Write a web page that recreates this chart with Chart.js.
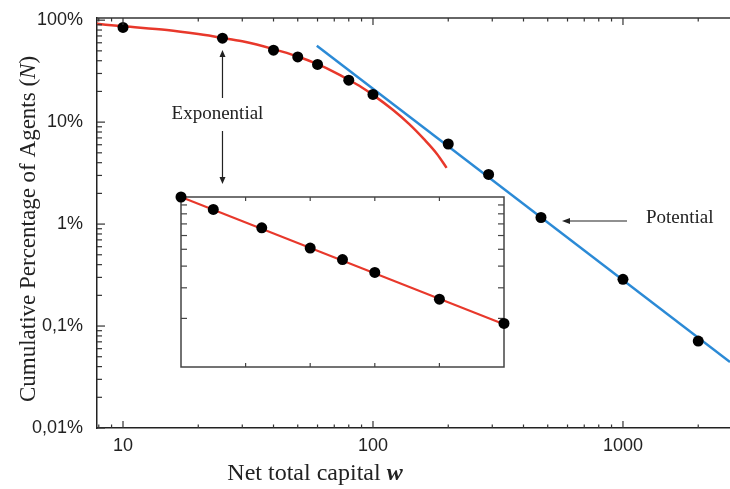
<!DOCTYPE html>
<html><head><meta charset="utf-8">
<script src="https://cdn.jsdelivr.net/npm/chart.js@4/dist/chart.umd.min.js"></script>
<style>
html,body{margin:0;padding:0;background:#fff;overflow:hidden;}
#wrap{position:relative;width:730px;height:489px;background:#fff;}
#main{position:absolute;left:0;top:0;}
#inset{position:absolute;left:171px;top:187px;}
</style></head><body>
<div id="wrap">
<canvas id="main" width="730" height="489"></canvas>
<canvas id="inset" width="343" height="190"></canvas>
</div>
<script>
// ---- data ----
const capitalW   = [10, 25, 40, 50, 60, 80, 100, 200, 290, 470, 1000, 2000];
const agentsPct  = [84.8, 66.5, 50.8, 43.6, 36.8, 25.8, 18.7, 6.1, 3.07, 1.16, 0.287, 0.0713];
const expCurveW  = [7.87, 10, 15, 20, 25, 30, 40, 50, 60, 70, 80, 90, 100, 120, 140, 160, 180, 197];
const expCurvePct= [92, 87, 80, 73, 67, 62, 52, 44, 37, 31, 26, 22, 18.5, 13.2, 9.5, 6.8, 4.9, 3.56];
const powerLineW = [59.6, 2680];
const powerLinePct = [56, 0.0444];
const yTickValues = [0.01, 0.1, 1, 10, 100];
const yTickLabels = ['0,01%', '0,1%', '1%', '10%', '100%'];
const xTickValues = [10, 100, 1000];
const xTickLabels = ['10', '100', '1000'];
const insetW   = [0, 10, 25, 40, 50, 60, 80, 100];
const insetPct = [100, 84.8, 66.5, 50.8, 43.6, 36.8, 25.8, 18.7];
const insetFitW   = [0, 100];
const insetFitPct = [100, 18.5];
const insetXTicks = [20, 40, 60, 80];
const insetYTicks = [20, 30, 40, 50, 60, 70, 80, 90];

const pts = (xs, ys) => xs.map((x, i) => ({x: x, y: ys[i]}));
const INK = '#222';

function line(ctx, x1, y1, x2, y2) { ctx.beginPath(); ctx.moveTo(x1, y1); ctx.lineTo(x2, y2); ctx.stroke(); }
function arrowHead(ctx, x, y, dir) {
  ctx.beginPath();
  if (dir === 'up') { ctx.moveTo(x, y); ctx.lineTo(x - 3, y + 7); ctx.lineTo(x + 3, y + 7); }
  if (dir === 'down') { ctx.moveTo(x, y); ctx.lineTo(x - 3, y - 7); ctx.lineTo(x + 3, y - 7); }
  if (dir === 'left') { ctx.moveTo(x, y); ctx.lineTo(x + 8, y - 3); ctx.lineTo(x + 8, y + 3); }
  ctx.closePath(); ctx.fill();
}

const mainDecor = {
  id: 'mainDecor',
  afterDraw(chart) {
    const ctx = chart.ctx, ca = chart.chartArea, xs = chart.scales.x, ys = chart.scales.y;
    ctx.save();
    ctx.strokeStyle = '#333'; ctx.lineWidth = 1.5;
    line(ctx, ca.left, ca.top, ca.right, ca.top);
    ctx.lineWidth = 1.2;
    [1, 10, 100, 1000].forEach(d => {
      for (let m = 1; m <= 9; m++) {
        const v = m * d;
        if (v < xs.min || v > xs.max) continue;
        const px = xs.getPixelForValue(v), len = m === 1 ? 7 : 3.5;
        line(ctx, px, ca.bottom, px, ca.bottom - len);
        line(ctx, px, ca.top, px, ca.top + len);
      }
    });
    [0.01, 0.1, 1, 10, 100].forEach(d => {
      for (let m = 1; m <= 9; m++) {
        const v = m * d;
        if (v < ys.min || v > ys.max) continue;
        const py = ys.getPixelForValue(v), len = m === 1 ? 8 : 5;
        line(ctx, ca.left, py, ca.left + len, py);
      }
    });
    // annotations
    ctx.fillStyle = INK; ctx.strokeStyle = INK; ctx.lineWidth = 1.2;
    const ax = xs.getPixelForValue(25);
    ctx.font = '19px "Liberation Serif"'; ctx.textAlign = 'center'; ctx.textBaseline = 'middle';
    ctx.fillText('Exponential', ax - 5, 114);
    line(ctx, ax, 98, ax, 55); arrowHead(ctx, ax, 50, 'up');
    line(ctx, ax, 131, ax, 178); arrowHead(ctx, ax, 184, 'down');
    const py = 221;
    line(ctx, 627, py, 568, py); arrowHead(ctx, 562, py, 'left');
    ctx.textAlign = 'left';
    ctx.fillText('Potential', 646, 218);
    // y title (mixed styles)
    ctx.save();
    ctx.translate(29, 229); ctx.rotate(-Math.PI / 2);
    const fN = '23px "Liberation Serif"', fI = 'italic 23px "Liberation Serif"';
    const p1 = 'Cumulative Percentage of Agents (', p2 = 'N', p3 = ')';
    ctx.font = fN; const w1 = ctx.measureText(p1).width, w3 = ctx.measureText(p3).width;
    ctx.font = fI; const w2 = ctx.measureText(p2).width;
    let sx = -(w1 + w2 + w3) / 2;
    ctx.textAlign = 'left'; ctx.textBaseline = 'middle';
    ctx.font = fN; ctx.fillText(p1, sx, 0); sx += w1;
    ctx.font = fI; ctx.fillText(p2, sx, 0); sx += w2;
    ctx.font = fN; ctx.fillText(p3, sx, 0);
    ctx.restore();
    // x title
    const q1 = 'Net total capital ', q2 = 'w';
    const gN = '24px "Liberation Serif"', gB = 'italic bold 24px "Liberation Serif"';
    ctx.font = gN; const v1 = ctx.measureText(q1).width;
    ctx.font = gB; const v2 = ctx.measureText(q2).width;
    let tx = 315 - (v1 + v2) / 2;
    ctx.textAlign = 'left'; ctx.textBaseline = 'middle';
    ctx.font = gN; ctx.fillText(q1, tx, 474); tx += v1;
    ctx.font = gB; ctx.fillText(q2, tx, 474);
    ctx.restore();
  }
};

new Chart(document.getElementById('main'), {
  type: 'scatter',
  data: { datasets: [
    { data: pts(expCurveW, expCurvePct), showLine: true, borderColor: '#e8382b', borderWidth: 2.5, pointRadius: 0, cubicInterpolationMode: 'monotone', order: 2 },
    { data: pts(powerLineW, powerLinePct), showLine: true, borderColor: '#2b8ad6', borderWidth: 2.5, pointRadius: 0, order: 3 },
    { data: pts(capitalW, agentsPct), showLine: false, pointRadius: 5.5, pointHoverRadius: 5.5, backgroundColor: '#000', borderColor: '#000', borderWidth: 0, order: 1 }
  ]},
  options: {
    responsive: false, animation: false, devicePixelRatio: 1,
    layout: { autoPadding: false, padding: { top: 18, left: 0, right: 0, bottom: 0 } },
    plugins: { legend: { display: false }, tooltip: { enabled: false } },
    scales: {
      x: { type: 'logarithmic', min: 7.87, max: 2680,
        grid: { display: false, drawTicks: false },
        border: { color: '#222', width: 1.5 },
        afterBuildTicks: s => { s.ticks = xTickValues.map(v => ({ value: v })); },
        ticks: { callback: (v, i) => xTickLabels[i], color: INK, font: { family: 'Liberation Sans', size: 18 }, padding: 7, maxRotation: 0, autoSkip: false },
        afterFit: s => { s.height = 61; s.paddingLeft = 0; s.paddingRight = 0; } },
      y: { type: 'logarithmic', min: 0.01, max: 105,
        grid: { display: false, drawTicks: false },
        border: { color: '#222', width: 1.5 },
        afterBuildTicks: s => { s.ticks = yTickValues.map(v => ({ value: v })); },
        ticks: { callback: (v, i) => yTickLabels[i], color: INK, font: { family: 'Liberation Sans', size: 18 }, padding: 14, autoSkip: false },
        afterFit: s => { s.width = 97; s.paddingTop = 0; s.paddingBottom = 0; } }
    }
  },
  plugins: [mainDecor]
});

const insetDecor = {
  id: 'insetDecor',
  beforeDatasetsDraw(chart) {
    const ctx = chart.ctx, ca = chart.chartArea, xs = chart.scales.x, ys = chart.scales.y;
    ctx.save();
    ctx.fillStyle = '#fff'; ctx.fillRect(ca.left, ca.top, ca.right - ca.left, ca.bottom - ca.top);
    ctx.strokeStyle = '#444'; ctx.lineWidth = 1.5;
    ctx.strokeRect(ca.left, ca.top, ca.right - ca.left, ca.bottom - ca.top);
    ctx.lineWidth = 1.2;
    insetXTicks.forEach(v => {
      const px = xs.getPixelForValue(v);
      line(ctx, px, ca.top, px, ca.top + 4);
      line(ctx, px, ca.bottom, px, ca.bottom - 4);
    });
    insetYTicks.forEach(v => {
      const py = ys.getPixelForValue(v);
      line(ctx, ca.left, py, ca.left + 6, py);
      line(ctx, ca.right, py, ca.right - 6, py);
    });
    ctx.restore();
  }
};

new Chart(document.getElementById('inset'), {
  type: 'scatter',
  data: { datasets: [
    { data: pts(insetFitW, insetFitPct), showLine: true, borderColor: '#e8382b', borderWidth: 2, pointRadius: 0, clip: false, order: 2 },
    { data: pts(insetW, insetPct), showLine: false, pointRadius: 5.5, pointHoverRadius: 5.5, backgroundColor: '#000', borderColor: '#000', borderWidth: 0, clip: false, order: 1 }
  ]},
  options: {
    responsive: false, animation: false, devicePixelRatio: 1,
    layout: { autoPadding: false, padding: 10 },
    plugins: { legend: { display: false }, tooltip: { enabled: false } },
    scales: {
      x: { type: 'linear', min: 0, max: 100, display: false },
      y: { type: 'logarithmic', min: 10.5, max: 100, display: false }
    }
  },
  plugins: [insetDecor]
});
</script>
</body></html>
